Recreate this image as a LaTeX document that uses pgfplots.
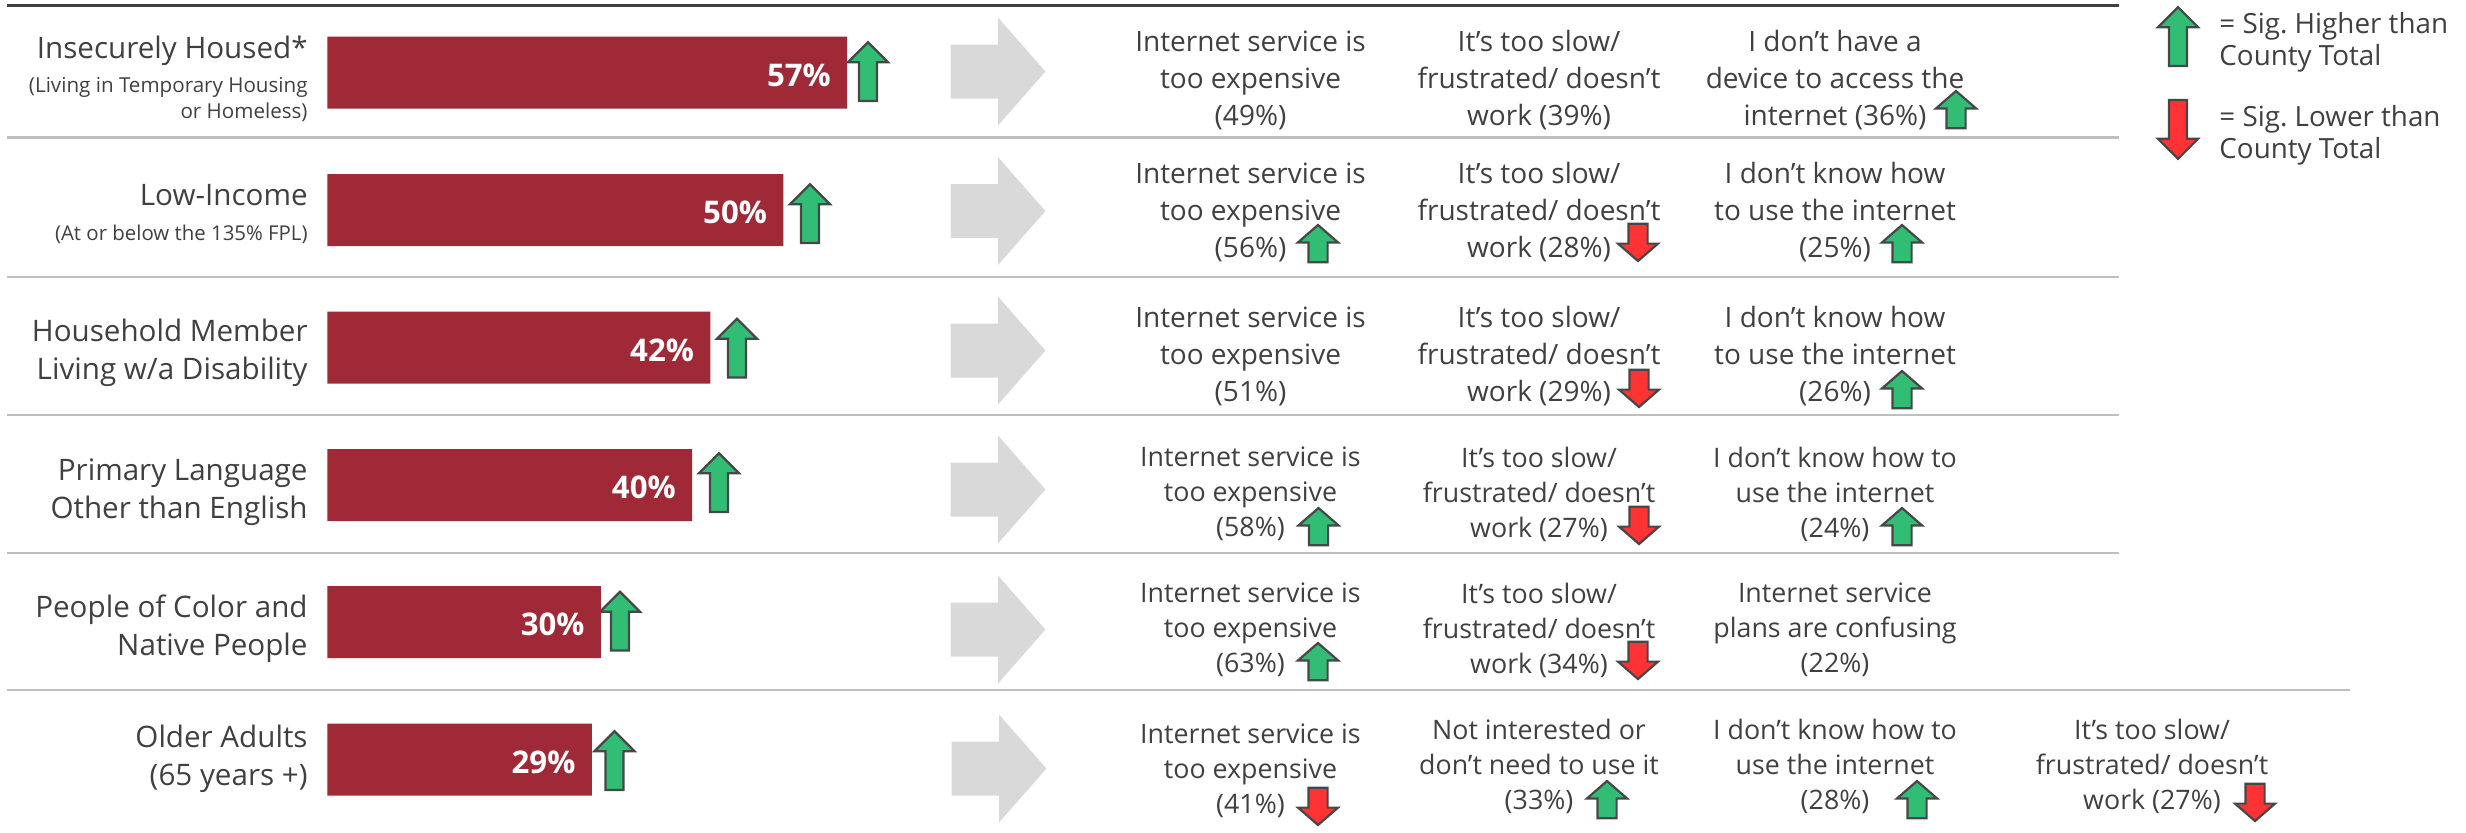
\documentclass[border=0pt]{standalone}
\usepackage{fontspec}
\setmainfont{Open Sans}
\usepackage{pgfplots}
\pgfplotsset{compat=1.18}

\definecolor{barred}{HTML}{9F2936}
\definecolor{txt}{HTML}{404040}
\definecolor{upgreen}{HTML}{31BD74}
\definecolor{downred}{HTML}{FF3333}
\definecolor{edge}{HTML}{474747}
\definecolor{sep}{HTML}{BFBFBF}
\definecolor{pointer}{HTML}{D9D9D9}

% 1 reference pixel = 0.5pt
\pgfdeclareplotmark{tallup}{%
  \pgfpathmoveto{\pgfpoint{0pt}{14.4pt}}
  \pgfpathlineto{\pgfpoint{10pt}{4.4pt}}\pgfpathlineto{\pgfpoint{4.5pt}{4.4pt}}
  \pgfpathlineto{\pgfpoint{4.5pt}{-15pt}}\pgfpathlineto{\pgfpoint{-4.5pt}{-15pt}}
  \pgfpathlineto{\pgfpoint{-4.5pt}{4.4pt}}\pgfpathlineto{\pgfpoint{-10pt}{4.4pt}}
  \pgfpathclose\pgfusepathqfillstroke}
\pgfdeclareplotmark{talldown}{%
  \pgfpathmoveto{\pgfpoint{0pt}{-14.4pt}}
  \pgfpathlineto{\pgfpoint{10pt}{-4.4pt}}\pgfpathlineto{\pgfpoint{4.5pt}{-4.4pt}}
  \pgfpathlineto{\pgfpoint{4.5pt}{15pt}}\pgfpathlineto{\pgfpoint{-4.5pt}{15pt}}
  \pgfpathlineto{\pgfpoint{-4.5pt}{-4.4pt}}\pgfpathlineto{\pgfpoint{-10pt}{-4.4pt}}
  \pgfpathclose\pgfusepathqfillstroke}
\pgfdeclareplotmark{shortup}{%
  \pgfpathmoveto{\pgfpoint{0pt}{9pt}}
  \pgfpathlineto{\pgfpoint{10pt}{0.3pt}}\pgfpathlineto{\pgfpoint{4.8pt}{0.3pt}}
  \pgfpathlineto{\pgfpoint{4.8pt}{-9.6pt}}\pgfpathlineto{\pgfpoint{-4.8pt}{-9.6pt}}
  \pgfpathlineto{\pgfpoint{-4.8pt}{0.3pt}}\pgfpathlineto{\pgfpoint{-10pt}{0.3pt}}
  \pgfpathclose\pgfusepathqfillstroke}
\pgfdeclareplotmark{shortdown}{%
  \pgfpathmoveto{\pgfpoint{0pt}{-9pt}}
  \pgfpathlineto{\pgfpoint{10pt}{-0.3pt}}\pgfpathlineto{\pgfpoint{4.8pt}{-0.3pt}}
  \pgfpathlineto{\pgfpoint{4.8pt}{9.6pt}}\pgfpathlineto{\pgfpoint{-4.8pt}{9.6pt}}
  \pgfpathlineto{\pgfpoint{-4.8pt}{-0.3pt}}\pgfpathlineto{\pgfpoint{-10pt}{-0.3pt}}
  \pgfpathclose\pgfusepathqfillstroke}
\pgfdeclareplotmark{pointer}{%
  \pgfpathmoveto{\pgfpoint{23.7pt}{0pt}}
  \pgfpathlineto{\pgfpoint{0pt}{27pt}}\pgfpathlineto{\pgfpoint{0pt}{13.5pt}}
  \pgfpathlineto{\pgfpoint{-23.7pt}{13.5pt}}\pgfpathlineto{\pgfpoint{-23.7pt}{-13.5pt}}
  \pgfpathlineto{\pgfpoint{0pt}{-13.5pt}}\pgfpathlineto{\pgfpoint{0pt}{-27pt}}
  \pgfpathclose\pgfusepathqfill}

% reasons: larger in the upper rows, a little smaller below
\newcommand{\cell}[3]{\node[anchor=center,align=center,text=txt,yshift=-1pt,font=\fontsize{14}{18.5}\selectfont] at (axis cs:#1,#2) {#3};}
\newcommand{\cellb}[3]{\node[anchor=center,align=center,text=txt,yshift=-1pt,font=\fontsize{13.4}{17.5}\selectfont] at (axis cs:#1,#2) {#3};}
\newcommand{\cat}[2]{\node[anchor=east,align=right,text=txt,inner sep=0pt,yshift=-1.4pt,font=\fontsize{14.8}{19}\selectfont] at (axis cs:308,#1) {#2};}

\begin{document}
\frenchspacing
\begin{tikzpicture}
\useasboundingbox (0pt,0pt) rectangle (1233pt,416pt);
\begin{axis}[
    at={(0pt,0pt)}, anchor=south west,
    scale only axis, width=1233pt, height=416pt,
    xmin=0, xmax=2466, ymin=0, ymax=832,
    y dir=reverse, hide axis, clip=false,
]
% rules
\addplot[no marks, txt, line width=1.5pt] coordinates {(7,5.5) (2119,5.5)};
\addplot[no marks, sep, line width=1.1pt] coordinates {(7,137.5) (2119,137.5)};
\addplot[no marks, sep, line width=1.1pt] coordinates {(7,277) (2119,277)};
\addplot[no marks, sep, line width=1.1pt] coordinates {(7,415) (2119,415)};
\addplot[no marks, sep, line width=1.1pt] coordinates {(7,553) (2119,553)};
\addplot[no marks, sep, line width=1.1pt] coordinates {(7,690) (2350,690)};

% grey pointers
\addplot[only marks, mark=pointer, mark options={fill=pointer, draw=none}] coordinates {
    (998,71.5) (998,211) (998,350.5) (998,489.5) (998,629.5) (999,768.5)
};

% significance arrows next to the bars and in the legend
\addplot[only marks, mark=tallup, mark options={fill=upgreen, draw=edge, line width=1.1pt}] coordinates {
    (868,71) (810,213) (737,347.5) (719,482) (620,620.5) (614.5,760) (2178,36)
};
\addplot[only marks, mark=talldown, mark options={fill=downred, draw=edge, line width=1.1pt}] coordinates {
    (2178,130)
};
% significance arrows in the reasons columns
\addplot[only marks, mark=shortup, mark options={fill=upgreen, draw=edge, line width=1.1pt}] coordinates {
    (1956,109) (1318,243) (1902,243) (1902,389) (1318.5,526) (1902,526)
    (1318,661) (1607,799) (1917,799)
};
\addplot[only marks, mark=shortdown, mark options={fill=downred, draw=edge, line width=1.1pt}] coordinates {
    (1638,243) (1639,389) (1639,526) (1638,661) (1318,807) (2255,803)
};

% row labels
\cat{48}{Insecurely Housed*}
\node[anchor=east,align=right,text=txt,inner sep=0pt,font=\fontsize{10.3}{12.8}\selectfont] at (axis cs:308,99.5) {(Living in Temporary Housing\\or Homeless)};
\node[anchor=east,text=txt,inner sep=0pt,font=\fontsize{14.8}{19}\selectfont] at (axis cs:308,195) {Low-Income};
\node[anchor=east,text=txt,inner sep=0pt,font=\fontsize{10.2}{12.8}\selectfont] at (axis cs:308,234) {(At or below the 135\% FPL)};
\cat{350}{Household Member\\Living w/a Disability}
\cat{489}{Primary Language\\Other than English}
\cat{625.5}{People of Color and\\Native People}
\cat{756}{Older Adults\\(65 years +)}

% reasons
\cell{1250.5}{78}{Internet service is\\too expensive\\(49\%)}
\cell{1539}{78}{It’s too slow/\\frustrated/ doesn’t\\work (39\%)}
\cell{1835}{78}{I don’t have a\\device to access the\\internet (36\%)}
\cell{1250.5}{210}{Internet service is\\too expensive\\(56\%)}
\cell{1539}{210}{It’s too slow/\\frustrated/ doesn’t\\work (28\%)}
\cell{1835}{210}{I don't know how\\to use the internet\\(25\%)}
\cell{1250.5}{354}{Internet service is\\too expensive\\(51\%)}
\cell{1539}{354}{It’s too slow/\\frustrated/ doesn’t\\work (29\%)}
\cell{1835}{354}{I don't know how\\to use the internet\\(26\%)}
\cellb{1250.5}{492}{Internet service is\\too expensive\\(58\%)}
\cellb{1539}{492}{It’s too slow/\\frustrated/ doesn’t\\work (27\%)}
\cellb{1835}{492}{I don’t know how to\\use the internet\\(24\%)}
\cellb{1250.5}{628}{Internet service is\\too expensive\\(63\%)}
\cellb{1539}{628}{It’s too slow/\\frustrated/ doesn’t\\work (34\%)}
\cellb{1835}{628}{Internet service\\plans are confusing\\(22\%)}
\cellb{1250.5}{769}{Internet service is\\too expensive\\(41\%)}
\cellb{1539}{764}{Not interested or\\don’t need to use it\\(33\%)}
\cellb{1835}{764}{I don’t know how to\\use the internet\\(28\%)}
\cellb{2152}{764}{It’s too slow/\\frustrated/ doesn’t\\work (27\%)}

% legend
\node[anchor=west,align=left,text=txt,inner sep=0pt,font=\fontsize{13.9}{16}\selectfont] at (axis cs:2219,42) {= Sig. Higher than\\County Total};
\node[anchor=west,align=left,text=txt,inner sep=0pt,font=\fontsize{13.9}{16}\selectfont] at (axis cs:2219,135) {= Sig. Lower than\\County Total};
\end{axis}

\begin{axis}[
    at={(163.65pt,0pt)}, anchor=south west,
    scale only axis, width=456pt, height=416pt,
    xmin=0, xmax=100, ymin=0, ymax=832,
    y dir=reverse, hide axis, clip=false,
    xbar, bar width=36pt, bar shift=0pt,
    point meta=x,
    /pgf/number format/assume math mode=true,
    nodes near coords={\pgfmathprintnumber{\pgfplotspointmeta}\%},
    nodes near coords style={anchor=east, inner sep=0pt, xshift=-8pt, yshift=-1.2pt,
        text=white, font=\fontsize{15.6}{18}\selectfont\bfseries},
]
\addplot[fill=barred, draw=none] coordinates {
    (57,72.5) (50,210) (42,347.5) (40,485) (30,622) (29,759.5)
};
\end{axis}
\end{tikzpicture}
\end{document}
